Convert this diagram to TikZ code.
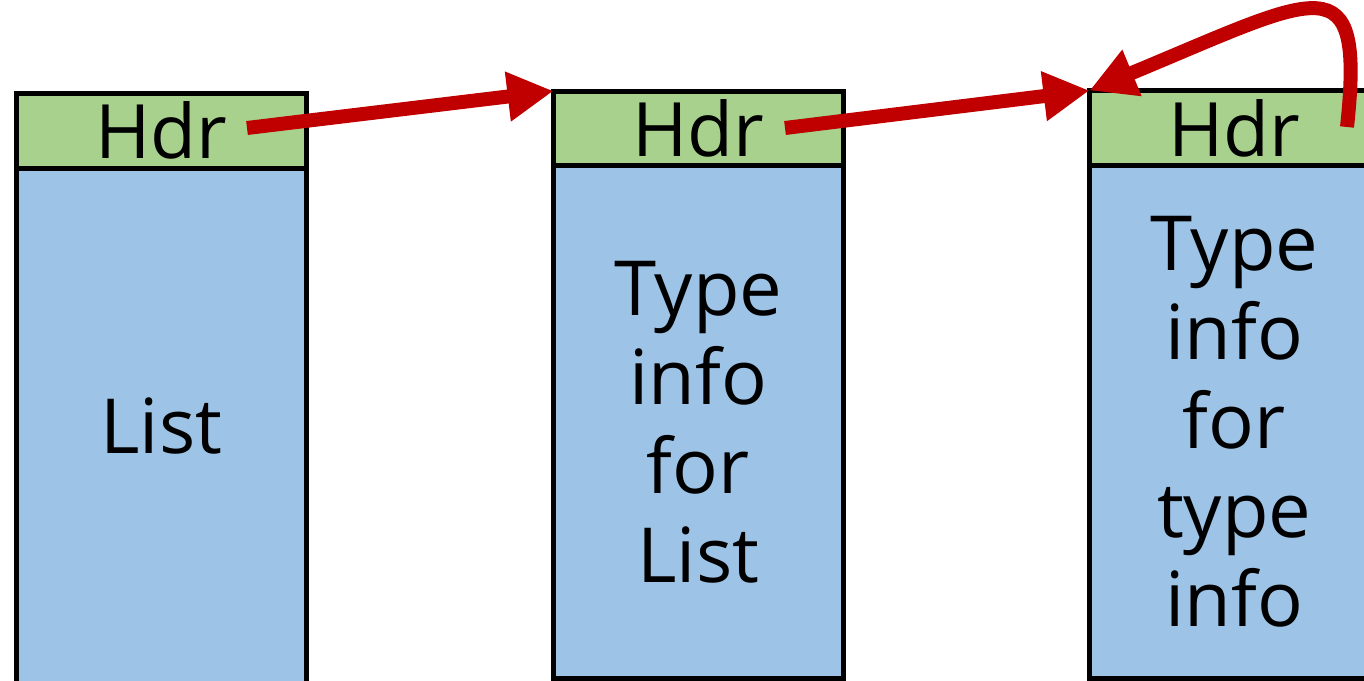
\documentclass[tikz,border=0pt]{standalone}
\usepackage{fontspec}
\setmainfont{Open Sans}
\usetikzlibrary{arrows.meta}
\definecolor{hdrgreen}{HTML}{A9D18E}
\definecolor{bodyblue}{HTML}{9DC3E6}
\definecolor{arrred}{HTML}{C00000}
\tikzset{
  hdrbox/.style={draw=black, line width=5pt, fill=hdrgreen, anchor=north west,
    minimum width=289.5pt, minimum height=74.5pt, inner sep=0pt, outer sep=0pt,
    font=\fontsize{75}{89}\selectfont},
  bodybox/.style={draw=black, line width=5pt, fill=bodyblue, anchor=north west,
    minimum width=289.5pt, inner sep=0pt, outer sep=0pt, align=center,
    font=\fontsize{76}{89}\selectfont},
  link/.style={draw=arrred, line width=14pt, -{Triangle[length=46pt, width=47pt]}}
}
\begin{document}
\begin{tikzpicture}[x=1pt, y=-1pt]
\useasboundingbox (0,0) rectangle (1364,680);
% box 1
\node[bodybox, minimum height=516pt] (b1) at (16.5,168) {List};
\node[hdrbox] (h1) at (16.5,93.5) {Hdr};
% box 2
\node[bodybox, minimum height=512.5pt] (b2) at (553.5,165.5) {Type\\info\\for\\List};
\node[hdrbox] (h2) at (553.5,91) {Hdr};
% box 3
\node[bodybox, minimum height=512.5pt] (b3) at (1089.5,165.5) {Type\\info\\for\\type\\info};
\node[hdrbox, minimum height=75pt] (h3) at (1089.5,90.5) {Hdr};
% arrows
\coordinate (s1) at (247,128);
\coordinate (s2) at (785,128);
\coordinate (s3) at (1347,127);
\draw[link] (s1) -- (h2.north west);
\draw[link] (s2) -- (h3.north west);
\draw[link] (s3) .. controls (1365,-40) and (1320,-5) .. (h3.north west);
\end{tikzpicture}
\end{document}
